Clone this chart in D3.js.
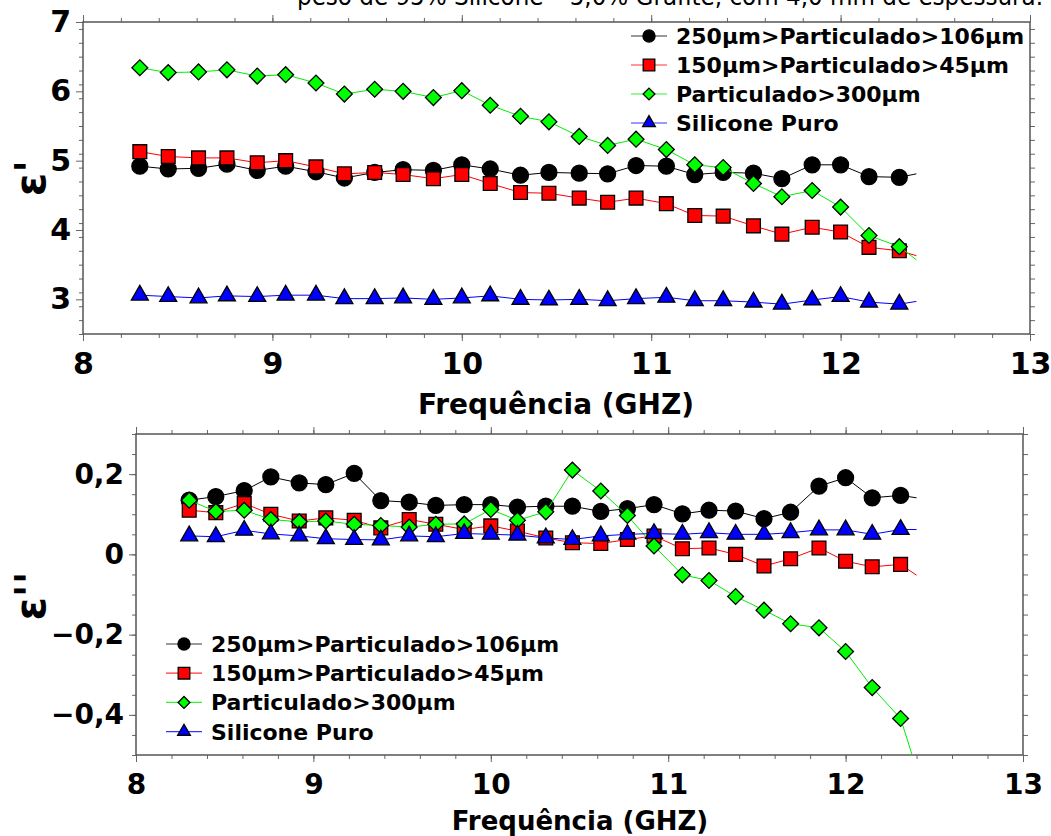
<!DOCTYPE html>
<html>
<head>
<meta charset="utf-8">
<script src="https://cdn.jsdelivr.net/npm/d3@7/dist/d3.min.js"></script>
<style>
  body { margin: 0; background: #fff; }
  svg { display: block; font-family: "DejaVu Sans", Verdana, sans-serif; }
</style>
</head>
<body>
<div id="chart"></div>
<script>
// Frequencies (GHz) where the symbols sit, plus where the traces stop
const markerFreq = [8.30, 8.45, 8.61, 8.76, 8.92, 9.07, 9.23, 9.38, 9.54, 9.69, 9.85, 10.00, 10.15, 10.31,
  10.46, 10.62, 10.77, 10.92, 11.08, 11.23, 11.38, 11.54, 11.69, 11.85, 12.00, 12.15, 12.31];
const traceEnd = 12.40;

const seriesNames = ["250μm>Particulado>106μm", "150μm>Particulado>45μm", "Particulado>300μm", "Silicone Puro"];

// eps' (top panel)
const realP250 = [4.92, 4.88, 4.89, 4.95, 4.86, 4.92, 4.84, 4.75, 4.83, 4.87, 4.86, 4.94, 4.88, 4.79,
  4.83, 4.82, 4.81, 4.93, 4.92, 4.80, 4.83, 4.82, 4.74, 4.94, 4.94, 4.77, 4.76];
const realP150 = [5.13, 5.06, 5.04, 5.04, 4.97, 5.00, 4.91, 4.81, 4.83, 4.80, 4.74, 4.80, 4.67, 4.54,
  4.53, 4.46, 4.40, 4.46, 4.38, 4.21, 4.20, 4.06, 3.94, 4.04, 3.97, 3.75, 3.70];
const realP300 = [6.34, 6.27, 6.28, 6.31, 6.22, 6.24, 6.12, 5.96, 6.03, 6.00, 5.91, 6.01, 5.80, 5.64,
  5.56, 5.35, 5.22, 5.31, 5.16, 4.94, 4.90, 4.67, 4.48, 4.57, 4.33, 3.92, 3.76];
const realPuro = [3.06, 3.04, 3.02, 3.05, 3.04, 3.06, 3.06, 3.01, 3.01, 3.02, 3.00, 3.02, 3.05, 3.00,
  2.99, 3.00, 2.98, 3.01, 3.03, 2.98, 2.98, 2.96, 2.93, 2.99, 3.04, 2.96, 2.93];
const realEnd = [4.81, 3.63, 3.57, 2.97];

// eps'' (bottom panel)
const imagP250 = [0.135, 0.144, 0.159, 0.193, 0.178, 0.174, 0.202, 0.134, 0.130, 0.122, 0.124, 0.124, 0.118, 0.120,
  0.120, 0.107, 0.114, 0.124, 0.101, 0.110, 0.108, 0.089, 0.105, 0.170, 0.191, 0.141, 0.147];
const imagP150 = [0.110, 0.104, 0.127, 0.100, 0.083, 0.091, 0.085, 0.066, 0.087, 0.075, 0.062, 0.071, 0.058, 0.041,
  0.029, 0.027, 0.037, 0.046, 0.014, 0.016, 0.000, -0.029, -0.011, 0.016, -0.017, -0.031, -0.025];
const imagP300 = [0.135, 0.107, 0.110, 0.087, 0.081, 0.083, 0.075, 0.072, 0.068, 0.075, 0.076, 0.112, 0.085, 0.106,
  0.210, 0.158, 0.097, 0.021, -0.051, -0.065, -0.105, -0.139, -0.173, -0.183, -0.242, -0.332, -0.409];
const imagPuro = [0.046, 0.044, 0.060, 0.051, 0.046, 0.039, 0.037, 0.036, 0.046, 0.044, 0.052, 0.050, 0.048, 0.041,
  0.037, 0.046, 0.050, 0.052, 0.050, 0.054, 0.050, 0.050, 0.054, 0.061, 0.061, 0.050, 0.062];
const imagEnd = [0.141, -0.052, -0.535, 0.062];

const xTicks = [8, 9, 10, 11, 12, 13];
const realTicks = [3, 4, 5, 6, 7];
const imagTicks = [-0.4, -0.2, 0, 0.2];

const colors = ["#000000", "#ff0000", "#00ee00", "#0000ff"];
const fills = ["#000000", "#ff0000", "#00ff00", "#0000ff"];
const shapes = ["circle", "square", "diamond", "triangle"];

const W = 1051, H = 836;
const svg = d3.select("#chart").append("svg").attr("width", W).attr("height", H);

// title, cut off by the top edge like in the source image
svg.append("text")
  .attr("x", 297).attr("y", 5)
  .attr("textLength", 746).attr("lengthAdjust", "spacingAndGlyphs")
  .style("font-size", "24px")
  .text("peso de 95% Silicone – 5,0% Grafite, com 4,0 mm de espessura.");

const symbolPath = (shape, size) => {
  const type = shape === "circle" ? d3.symbolCircle : shape === "triangle" ? d3.symbolTriangle : d3.symbolSquare;
  return d3.symbol().type(type).size(size)();
};
const markerSize = { circle: 200, square: 190, diamond: 125, triangle: 125 };
const legendSize = { circle: 115, square: 135, diamond: 70, triangle: 70 };

const drawMarker = (g, shape, cx, cy, size, i) => {
  g.append("path")
    .attr("d", symbolPath(shape, size))
    .attr("transform", `translate(${cx},${cy})` + (shape === "diamond" ? " rotate(45)" : ""))
    .attr("fill", fills[i])
    .attr("stroke", "#000")
    .attr("stroke-width", 1.3);
};

const fmtComma = (d) => (d === 0 ? "0" : d3.format(".1f")(d).replace(".", ",").replace("-", "−"));

function drawPanel(opt) {
  const { id, left, right, top, bottom, yDomain, yTicks, yMinorStep, yFmt, series, ends, fontSize, yLabel, yLabelY, legend } = opt;
  const x = d3.scaleLinear().domain([8, 13]).range([left, right]);
  const y = d3.scaleLinear().domain(yDomain).range([bottom, top]);
  const g = svg.append("g");

  g.append("clipPath").attr("id", id)
    .append("rect").attr("x", left).attr("y", top).attr("width", right - left).attr("height", bottom - top);

  const xMinor = d3.range(8, 13.001, 0.2);
  const yMinor = d3.range(yDomain[0], yDomain[1] + 1e-6, yMinorStep);

  const axes = [
    [d3.axisBottom(x).tickValues(xMinor).tickSize(4), `translate(0,${bottom})`],
    [d3.axisTop(x).tickValues(xMinor).tickSize(4), `translate(0,${top})`],
    [d3.axisTop(x).tickValues(xTicks).tickSize(7), `translate(0,${top})`],
    [d3.axisLeft(y).tickValues(yMinor).tickSize(4), `translate(${left},0)`],
    [d3.axisRight(y).tickValues(yMinor).tickSize(5), `translate(${right},0)`]
  ];
  axes.forEach(([ax, tr]) => {
    g.append("g").attr("transform", tr).call(ax.tickFormat("").tickSizeOuter(0))
      .call((a) => a.select(".domain").remove())
      .selectAll("line").attr("stroke", "#666");
  });

  // labelled axes
  const xa = g.append("g").attr("transform", `translate(0,${bottom})`)
    .call(d3.axisBottom(x).tickValues(xTicks).tickSize(7).tickPadding(12).tickSizeOuter(0).tickFormat(d3.format("d")));
  const ya = g.append("g").attr("transform", `translate(${left},0)`)
    .call(d3.axisLeft(y).tickValues(yTicks).tickSize(7).tickPadding(5).tickSizeOuter(0).tickFormat(yFmt));
  [xa, ya].forEach((a) => {
    a.select(".domain").remove();
    a.selectAll("line").attr("stroke", "#666");
    a.selectAll("text").attr("fill", "#000").style("font-size", opt.tickFont + "px").style("font-weight", "bold")
      .style("font-family", '"DejaVu Sans", Verdana, sans-serif');
  });

  // frame
  g.append("rect")
    .attr("x", left).attr("y", top).attr("width", right - left).attr("height", bottom - top)
    .attr("fill", "none").attr("stroke", "#555").attr("stroke-width", 1.5);

  // series: trace then symbols
  series.forEach((vals, i) => {
    const pts = markerFreq.map((f, k) => [f, vals[k]]).concat([[traceEnd, ends[i]]]);
    g.append("path")
      .datum(pts)
      .attr("clip-path", `url(#${id})`)
      .attr("fill", "none")
      .attr("stroke", colors[i])
      .attr("stroke-width", 1)
      .attr("d", d3.line().x((d) => x(d[0])).y((d) => y(d[1])));
    const mg = g.append("g");
    vals.forEach((v, k) => drawMarker(mg, shapes[i], x(markerFreq[k]), y(v), markerSize[shapes[i]], i));
  });

  // legend
  const lg = g.append("g");
  seriesNames.forEach((name, i) => {
    const ly = legend.y + i * legend.step;
    lg.append("line").attr("x1", legend.x).attr("x2", legend.x + 36).attr("y1", ly).attr("y2", ly)
      .attr("stroke", colors[i]).attr("stroke-width", 1.2).attr("stroke-opacity", 0.8);
    drawMarker(lg, shapes[i], legend.x + 18, ly, legendSize[shapes[i]], i);
    lg.append("text").attr("x", legend.x + 45).attr("y", ly).attr("dy", "0.36em")
      .style("font-size", "22px").style("font-weight", "bold").text(name);
  });

  // axis titles
  g.append("text")
    .attr("x", opt.xLabelX).attr("y", opt.xLabelY)
    .attr("text-anchor", "middle")
    .style("font-size", fontSize + "px").style("font-weight", "bold")
    .text("Frequência (GHZ)");
  g.append("text")
    .attr("transform", `translate(45,${yLabelY}) rotate(-90)`)
    .attr("text-anchor", "middle")
    .style("font-size", "42px").style("font-weight", "bold")
    .text(yLabel);
}

drawPanel({
  id: "clipTop", left: 83, right: 1030, top: 22, bottom: 334,
  yDomain: [2.5, 7], yTicks: realTicks, yMinorStep: 0.2, yFmt: d3.format("d"),
  series: [realP250, realP150, realP300, realPuro], ends: realEnd,
  fontSize: 28, tickFont: 30, xLabelX: 556, xLabelY: 414, yLabel: "ε'", yLabelY: 178,
  legend: { x: 631, y: 36, step: 29 }
});

drawPanel({
  id: "clipBottom", left: 136, right: 1023, top: 434, bottom: 755,
  yDomain: [-0.5, 0.3], yTicks: imagTicks, yMinorStep: 0.05, yFmt: fmtComma,
  series: [imagP250, imagP150, imagP300, imagPuro], ends: imagEnd,
  fontSize: 26, tickFont: 28, xLabelX: 580, xLabelY: 830, yLabel: "ε''", yLabelY: 596,
  legend: { x: 166, y: 644, step: 29.2 }
});
</script>
</body>
</html>
